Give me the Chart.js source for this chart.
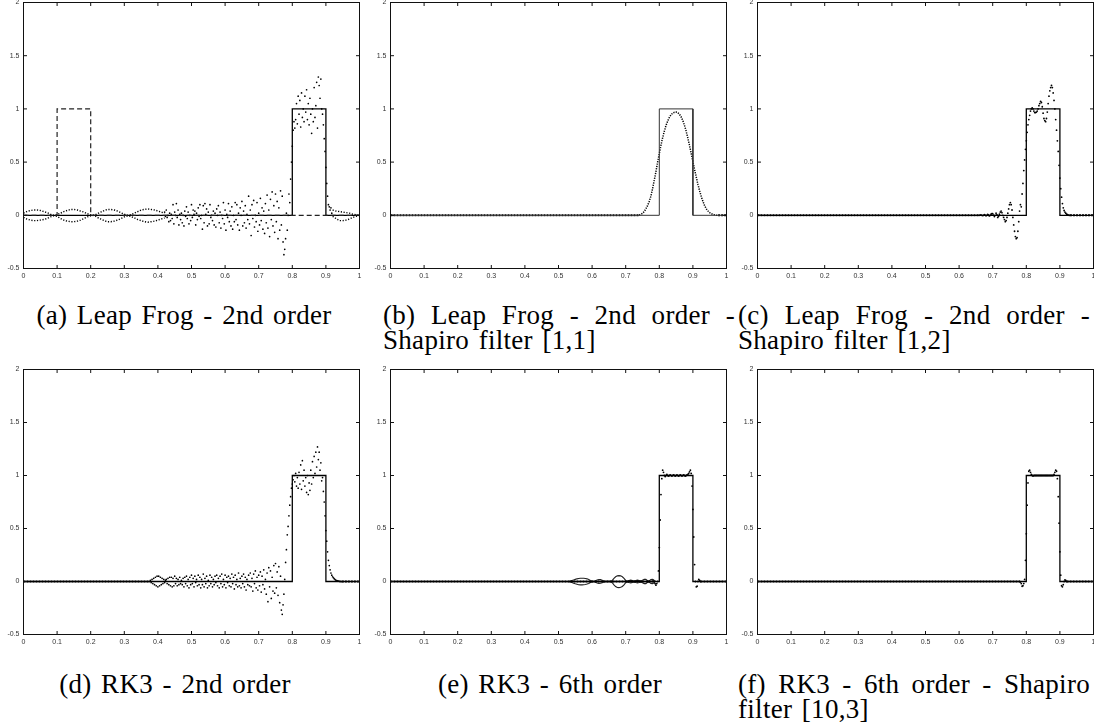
<!DOCTYPE html>
<html><head><meta charset="utf-8">
<script src="https://cdn.jsdelivr.net/npm/chart.js@4.4.0/dist/chart.umd.min.js"></script>
<style>
html,body{margin:0;padding:0;background:#fff;width:1094px;height:727px;overflow:hidden;position:relative;}
canvas{position:absolute;}
.cap{position:absolute;font-family:"Liberation Serif","Times New Roman",Times,serif;font-size:27px;line-height:25px;color:#000;letter-spacing:0.3px;word-spacing:2.5px;white-space:nowrap;}
.just{text-align:justify;text-align-last:justify;white-space:normal;}
.center{text-align:center;}
</style></head><body>

<div class="cap center" style="left:-16px;top:303px;width:400px;">(a) Leap Frog - 2nd order</div>
<div class="cap just" style="left:383px;top:303px;width:352px;">(b) Leap Frog - 2nd order -</div>
<div class="cap" style="left:383px;top:328px;">Shapiro filter [1,1]</div>
<div class="cap just" style="left:738px;top:303px;width:352px;">(c) Leap Frog - 2nd order -</div>
<div class="cap" style="left:738px;top:328px;">Shapiro filter [1,2]</div>
<div class="cap center" style="left:-25px;top:672px;width:400px;">(d) RK3 - 2nd order</div>
<div class="cap center" style="left:350px;top:672px;width:400px;">(e) RK3 - 6th order</div>
<div class="cap just" style="left:738px;top:672px;width:352px;">(f) RK3 - 6th order - Shapiro</div>
<div class="cap" style="left:738px;top:697px;">filter [10,3]</div>

<script>
// ---------- axes ----------
const xTickValues = [0,0.1,0.2,0.3,0.4,0.5,0.6,0.7,0.8,0.9,1];
const xTickLabels = ['0','0.1','0.2','0.3','0.4','0.5','0.6','0.7','0.8','0.9','1'];
const yTickValues = [-0.5,0,0.5,1,1.5,2];
const yTickLabels = ['-0.5','0','0.5','1','1.5','2'];

// ---------- exact and initial solutions ----------
const exactX = [0,0.8,0.8,0.9,0.9,1];
const exactY = [0,0,1,1,0,0];
const initX = [0,0.1,0.1,0.2,0.2,1];
const initY = [0,0,1,1,0,0];

// ---------- (a) Leap Frog 2nd order ----------
const aEnvStart = 0, aEnvStep = 0.01;
const aEnvUp = [0.02,0.035,0.045,0.05,0.05,0.045,0.035,0.025,0.01,0.0,
  0.005,0.02,0.035,0.045,0.055,0.055,0.05,0.04,0.03,0.015,
  0.005,0.0,0.015,0.03,0.045,0.055,0.055,0.05,0.04,0.025,
  0.01,0.0,0.005,0.02,0.035,0.05,0.055,0.06,0.055,0.05,
  0.04,0.03,0.02];
const aEnvLo = [-0.02,-0.035,-0.045,-0.05,-0.05,-0.045,-0.04,-0.03,-0.015,-0.005,
  -0.01,-0.03,-0.045,-0.055,-0.06,-0.06,-0.055,-0.045,-0.03,-0.015,
  -0.005,0.0,-0.02,-0.035,-0.05,-0.06,-0.06,-0.055,-0.045,-0.03,
  -0.015,-0.005,-0.01,-0.025,-0.04,-0.05,-0.06,-0.065,-0.06,-0.055,
  -0.045,-0.035,-0.025];
const aTailStart = 0.92, aTailStep = 0.01;
const aTailUp = [0.05,0.04,0.035,0.03,0.025,0.02,0.01,0.005,0.0];
const aTailLo = [-0.01,-0.03,-0.05,-0.05,-0.045,-0.035,-0.02,-0.01,0.0];
const aDotStart = 0.42, aDotStep = 0.0025;
const aDotY = [
  0.03,-0.01,0.05,-0.02,0.0,-0.06,0.02,-0.05,0.01,-0.03,0.1,-0.08,0.03,0.0,0.11,-0.02,0.05,-0.09,0.01,-0.04,
  0.02,-0.07,0.0,-0.1,0.04,-0.01,0.08,-0.03,0.03,-0.08,0.0,-0.05,0.1,-0.02,0.05,0.01,0.04,-0.09,0.02,-0.04,
  0.07,-0.01,0.1,-0.03,0.0,-0.13,0.09,-0.07,0.11,0.01,0.06,-0.1,0.03,-0.08,0.1,-0.02,0.0,-0.05,0.04,-0.09,
  0.02,-0.11,0.06,0.0,0.09,-0.07,0.03,-0.12,0.0,-0.03,0.12,-0.08,0.05,-0.14,0.01,-0.02,0.11,-0.06,0.04,-0.1,
  0.08,-0.13,0.0,-0.06,0.12,-0.04,0.1,-0.09,0.02,-0.14,0.07,0.0,0.13,-0.1,0.04,-0.07,0.09,-0.12,0.01,-0.04,
  0.18,-0.08,0.05,-0.19,0.1,-0.03,0.14,-0.11,0.0,-0.06,0.12,-0.15,0.02,-0.09,0.16,-0.05,0.07,-0.13,0.04,-0.17,
  0.11,-0.07,0.19,-0.12,0.05,-0.2,0.15,-0.04,0.22,-0.1,0.09,-0.16,0.2,-0.06,0.13,-0.22,0.07,-0.14,0.23,-0.09,
  0.18,-0.25,-0.37,-0.32,-0.22,0.02,-0.14,0.0,0.2,0.12,0.34,0.5,0.65,0.8,0.88,0.82,0.9,1.05,0.86,1.12,
  0.95,1.08,0.83,1.15,0.92,1.0,0.88,1.12,0.97,1.18,0.9,1.05,0.85,1.1,0.95,0.77,1.0,0.88,1.2,0.92,
  1.03,1.25,0.82,1.3,1.22,1.1,1.28,1.0,0.95,0.85,0.72,0.6,0.45,0.3,0.18,0.1,0.08,0.05,0.07,0.02];

// ---------- (b) Leap Frog + Shapiro [1,1] ----------
const bStart = 0.74, bStep = 0.005;
const bY = [0.003,0.008,0.018,0.035,0.06,0.09,0.13,0.18,0.25,0.33,0.41,0.5,0.58,0.66,0.73,0.79,0.845,0.885,0.92,0.945,0.96,0.968,0.97,
  0.965,0.95,0.925,0.89,0.845,0.79,0.725,0.655,0.58,0.505,0.43,0.36,0.29,0.23,0.175,0.13,0.09,0.06,0.04,0.025,0.015,0.008,0.004,0.001,0];
const bZeroRuns = [[0,0.74],[0.975,1]];

// ---------- (c) Leap Frog + Shapiro [1,2] ----------
const cStart = 0.66, cStep = 0.0025;
const cY = [0,0.002,0.003,0.0,-0.003,0.0,0.005,0.002,-0.005,0.0,
  0.008,0.003,-0.006,0.0,0.01,0.015,0.015,0.002,-0.012,0.0,
  0.02,0.005,-0.02,-0.01,0.01,0.03,0.04,0.025,0.0,-0.02,
  -0.04,-0.06,-0.05,-0.02,0.02,0.06,0.1,0.12,0.1,0.05,
  -0.02,-0.09,-0.15,-0.2,-0.22,-0.21,-0.15,-0.06,0.04,0.1,
  0.08,0.2,0.3,0.42,0.52,0.62,0.7,0.78,0.85,0.9,
  0.94,0.98,1.0,1.01,1.0,0.98,0.965,0.965,0.97,0.98,
  1.0,1.03,1.05,1.07,1.06,1.02,0.96,0.91,0.89,0.88,
  0.91,0.97,1.05,1.12,1.17,1.2,1.22,1.2,1.15,1.08,
  1.0,0.9,0.8,0.7,0.6,0.47,0.35,0.25,0.17,0.11,
  0.07,0.045,0.03,0.02,0.01,0.005,0.002,0.0,0.0];
const cZeroRuns = [[0,0.66],[0.93,1]];

// ---------- (d) RK3 2nd order ----------
const dStart = 0.375, dStep = 0.0025;
const dY = [
  0.0,0.01,-0.01,0.02,-0.02,0.03,-0.03,0.04,-0.04,0.05,-0.05,0.05,-0.04,0.04,-0.03,0.03,-0.02,0.02,-0.01,0.01,
  0.02,-0.02,0.03,-0.03,0.04,-0.04,0.04,-0.05,0.03,-0.04,0.05,-0.02,0.03,-0.04,0.02,-0.03,0.04,-0.02,0.01,-0.03,
  0.03,-0.05,0.04,-0.02,0.05,-0.04,0.02,-0.06,0.04,-0.03,0.06,-0.02,0.03,-0.05,0.05,-0.01,0.02,-0.04,0.06,-0.03,
  0.04,-0.06,0.02,-0.03,0.07,-0.05,0.03,-0.02,0.05,-0.06,0.01,-0.04,0.06,-0.02,0.04,-0.05,0.02,-0.03,0.05,-0.01,
  0.06,-0.04,0.03,-0.06,0.05,-0.02,0.07,-0.05,0.02,-0.03,0.06,-0.06,0.04,-0.01,0.05,-0.04,0.03,-0.05,0.07,-0.02,
  0.04,-0.07,0.06,-0.03,0.02,-0.05,0.08,-0.04,0.03,-0.06,0.05,-0.02,0.07,-0.05,0.04,-0.08,0.02,-0.03,0.06,-0.04,
  0.08,-0.05,0.03,-0.09,0.07,-0.02,0.1,-0.06,0.04,-0.08,0.06,-0.04,0.09,-0.1,0.05,-0.03,0.11,-0.07,0.02,-0.12,
  0.08,-0.19,0.13,-0.05,0.1,-0.16,0.04,-0.09,0.15,-0.11,0.17,-0.06,0.09,-0.13,0.14,-0.2,0.05,-0.27,-0.31,-0.22,
  -0.12,0.02,0.18,0.3,0.44,0.52,0.62,0.72,0.8,0.88,0.92,0.96,1.0,0.94,1.02,0.9,0.98,0.88,1.03,0.92,
  1.1,0.87,1.14,0.95,1.05,0.9,0.98,0.84,1.0,0.82,0.93,0.86,1.05,0.92,1.13,0.98,1.18,1.02,1.22,1.08,
  1.27,1.15,1.22,1.05,1.12,0.95,0.98,0.85,0.75,0.62,0.48,0.38,0.28,0.2,0.15,0.11,0.08,0.06,0.045,0.035,
  0.025,0.018,0.012,0.008,0.005,0.003,0.002,0.001,0.0,0.0];
const dZeroRuns = [[0,0.375],[0.9475,1]];

// ---------- (e) RK3 6th order ----------
const eEnvStart = 0.53, eEnvStep = 0.005;
const eEnvUp = [0,0.005,0.01,0.015,0.02,0.025,0.028,0.03,0.03,0.03,
  0.028,0.025,0.018,0.01,0.004,0.0,0.008,0.015,0.018,0.018,
  0.012,0.004,0.002,0.003,0.002,0.003,0.01,0.03,0.045,0.053,
  0.055,0.053,0.045,0.03,0.01,0.004,0.01,0.013,0.01,0.004,
  0.01,0.013,0.01,0.004,0.012,0.02,0.02,0.008,0.005,0.018,
  0.02,0.01,0.0];
const eEnvLo = [0,-0.005,-0.01,-0.016,-0.022,-0.026,-0.03,-0.032,-0.032,-0.03,
  -0.028,-0.024,-0.018,-0.01,-0.004,0.0,-0.008,-0.015,-0.018,-0.017,
  -0.012,-0.004,-0.002,-0.003,-0.002,-0.003,-0.012,-0.032,-0.048,-0.056,
  -0.058,-0.055,-0.047,-0.032,-0.012,-0.004,-0.01,-0.013,-0.01,-0.004,
  -0.01,-0.013,-0.01,-0.004,-0.012,-0.02,-0.02,-0.008,-0.005,-0.018,
  -0.02,-0.012,-0.03];
const eStart = 0.78, eStep = 0.0025;
const eY = [0.0,0.01,-0.01,-0.02,-0.035,-0.02,0.0,0.1,0.32,0.58,
  0.82,0.97,1.05,1.03,1.0,0.99,1.0,1.01,1.0,0.995,
  1.0,1.005,1.0,0.995,1.0,1.005,1.0,0.995,1.0,1.005,
  1.0,0.995,1.0,1.005,1.0,0.995,1.0,1.005,1.0,0.995,
  1.0,1.005,1.01,1.02,1.035,1.05,1.02,0.9,0.68,0.42,
  0.16,0.0,-0.05,-0.045,0.0,0.02,0.01,0.0];
const eZeroRuns = [[0,0.78],[0.9225,1]];

// ---------- (f) RK3 6th order + Shapiro [10,3] ----------
const fStart = 0.78, fStep = 0.0025;
const fY = [0.0,-0.005,-0.02,-0.045,-0.04,-0.02,0.02,0.2,0.45,0.72,
  0.93,1.04,1.05,1.03,1.01,1.0,0.995,1.0,1.0,1.0,
  1.0,1.0,1.0,1.0,1.0,1.0,1.0,1.0,1.0,1.0,
  1.0,1.0,1.0,1.0,1.0,1.0,1.0,1.0,1.0,1.0,
  1.0,1.01,1.03,1.05,1.04,0.97,0.8,0.55,0.28,0.06,
  -0.04,-0.05,-0.03,0.0,0.015,0.01,0.0];
const fZeroRuns = [[0,0.78],[0.92,1]];

// ---------- helpers ----------
function pairs(xs, ys){ return ys.map((y,i)=>({x:xs[i], y:y})); }
function onGrid(start, step, ys){ return ys.map((y,i)=>({x:+(start+i*step).toFixed(5), y:y})); }
function lineDs(data, extra){ return Object.assign({data:data, showLine:true, pointRadius:0, borderColor:'#000', borderWidth:1.3, tension:0, fill:false}, extra||{}); }
function dotDs(data, r){ return {data:data, showLine:false, pointRadius:r||1, pointHoverRadius:0, pointBackgroundColor:'#000', pointBorderWidth:0, pointBorderColor:'rgba(0,0,0,0)'}; }
function zeroDs(runs){ return runs.map(r=>lineDs([{x:r[0],y:0},{x:r[1],y:0}], {borderWidth:2, borderDash:[2,1]})); }

const boxPlugin = {id:'box', afterDatasetsDraw(chart){
  const ctx = chart.ctx, a = chart.chartArea, xs = chart.scales.x, ys = chart.scales.y;
  ctx.save(); ctx.strokeStyle = '#111'; ctx.lineWidth = 1;
  ctx.strokeRect(a.left, a.top, a.right-a.left, a.bottom-a.top);
  const L = 3.5;
  ctx.beginPath();
  xTickValues.forEach(v=>{ const p = xs.getPixelForValue(v); ctx.moveTo(p,a.bottom); ctx.lineTo(p,a.bottom-L); ctx.moveTo(p,a.top); ctx.lineTo(p,a.top+L); });
  yTickValues.forEach(v=>{ const p = ys.getPixelForValue(v); ctx.moveTo(a.left,p); ctx.lineTo(a.left+L,p); ctx.moveTo(a.right,p); ctx.lineTo(a.right-L,p); });
  ctx.stroke(); ctx.restore();
}};

const tickFont = {family:'"Liberation Sans", Arial, sans-serif', size:7};

function makePanel(geom, datasets){
  const left = Math.floor(geom.x0) - 32, top = Math.floor(geom.y0) - 12;
  const width = Math.ceil(geom.x1) + 12 - left, height = Math.ceil(geom.y1) + 24 - top;
  const yW = geom.x0 - left, padT = geom.y0 - top, padR = left + width - geom.x1, xH = top + height - geom.y1;
  const cv = document.createElement('canvas');
  cv.width = width; cv.height = height;
  cv.style.left = left + 'px'; cv.style.top = top + 'px';
  cv.style.width = width + 'px'; cv.style.height = height + 'px';
  document.body.appendChild(cv);
  new Chart(cv, {
    type: 'scatter',
    data: {datasets: datasets},
    options: {
      responsive:false, animation:false, events:[], devicePixelRatio:1,
      layout:{padding:{left:0, top:padT, right:padR, bottom:0}, autoPadding:false},
      plugins:{legend:{display:false}, tooltip:{enabled:false}},
      scales:{
        x:{type:'linear', min:0, max:1,
           afterFit(s){ s.height = xH; },
           afterBuildTicks(s){ s.ticks = xTickValues.map(v=>({value:v})); },
           ticks:{callback:(v)=>xTickLabels[xTickValues.indexOf(v)], font:tickFont, color:'#333', padding:3, maxRotation:0, minRotation:0, autoSkip:false},
           grid:{display:false, drawTicks:false}, border:{display:false}},
        y:{type:'linear', min:-0.5, max:2,
           afterFit(s){ s.width = yW; },
           afterBuildTicks(s){ s.ticks = yTickValues.map(v=>({value:v})); },
           ticks:{callback:(v)=>yTickLabels[yTickValues.indexOf(v)], font:tickFont, color:'#333', padding:4, autoSkip:false},
           grid:{display:false, drawTicks:false}, border:{display:false}}
      }
    },
    plugins:[boxPlugin]
  });
}

const rowTop = {y0:2.5, y1:268.5}, rowBot = {y0:369.5, y1:634.5};
const col = [{x0:23.5, x1:359.5}, {x0:390.5, x1:726.5}, {x0:757.5, x1:1093.5}];
const exact = () => lineDs(pairs(exactX, exactY), {borderWidth:1.3});
const envStyle = {borderWidth:1.4, borderDash:[1.2,1.6]};

// (a)
makePanel(Object.assign({}, col[0], rowTop), [
  lineDs(pairs(initX, initY), {borderWidth:1.2, borderDash:[5,3], borderColor:'#222'}),
  exact(),
  lineDs(onGrid(aEnvStart, aEnvStep, aEnvUp), envStyle),
  lineDs(onGrid(aEnvStart, aEnvStep, aEnvLo), envStyle),
  lineDs(onGrid(aTailStart, aTailStep, aTailUp), envStyle),
  lineDs(onGrid(aTailStart, aTailStep, aTailLo), envStyle),
  dotDs(onGrid(aDotStart, aDotStep, aDotY), 0.85)
]);
// (b)
makePanel(Object.assign({}, col[1], rowTop), [
  lineDs(pairs(exactX, exactY), {borderWidth:1, borderColor:'#333'}),
  ...zeroDs(bZeroRuns),
  lineDs(onGrid(bStart, bStep, bY), {borderWidth:1.5, borderDash:[1.2,1.2]})
]);
// (c)
makePanel(Object.assign({}, col[2], rowTop), [
  exact(), ...zeroDs(cZeroRuns),
  dotDs(onGrid(cStart, cStep, cY), 0.9)
]);
// (d)
makePanel(Object.assign({}, col[0], rowBot), [
  exact(), ...zeroDs(dZeroRuns),
  dotDs(onGrid(dStart, dStep, dY), 0.85)
]);
// (e)
makePanel(Object.assign({}, col[1], rowBot), [
  exact(), ...zeroDs(eZeroRuns),
  lineDs(onGrid(eEnvStart, eEnvStep, eEnvUp), {borderWidth:1.1, borderColor:'#222'}),
  lineDs(onGrid(eEnvStart, eEnvStep, eEnvLo), {borderWidth:1.1, borderColor:'#222'}),
  dotDs(onGrid(eStart, eStep, eY), 0.9)
]);
// (f)
makePanel(Object.assign({}, col[2], rowBot), [
  exact(), ...zeroDs(fZeroRuns),
  dotDs(onGrid(fStart, fStep, fY), 0.9)
]);
</script>
</body></html>
